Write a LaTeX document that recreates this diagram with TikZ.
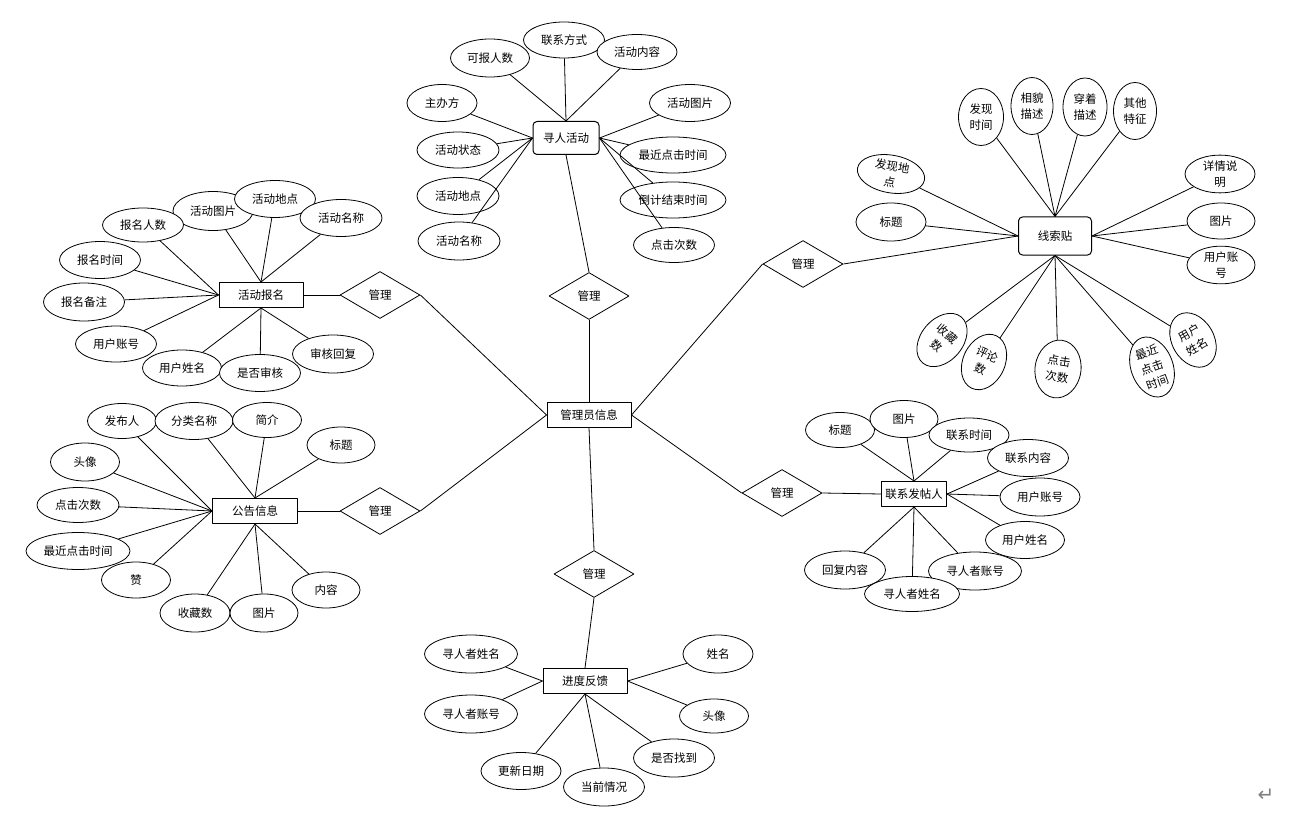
\documentclass[tikz,border=0pt]{standalone}
\usepackage{fontspec}
\setmainfont{Noto Sans CJK SC}
\newfontfamily\symfnt{DejaVu Sans}
\usepackage{tikz}
\usetikzlibrary{shapes.geometric, positioning}

\tikzset{
  ent/.style={draw, line width=1pt, fill=white, minimum width=84pt, minimum height=25pt, inner sep=1pt},
  entr/.style={ent, rounded corners=4pt},
  attr/.style={draw, ellipse, line width=0.8pt, fill=white, inner sep=0pt, align=center},
  rel/.style={draw, diamond, line width=0.8pt, fill=white, minimum width=80pt, minimum height=47pt, inner sep=0pt},
  conn/.style={line width=0.8pt}
}

\begin{document}
\begin{tikzpicture}[x=1pt, y=-1pt, font=\fontsize{11.5}{16}\selectfont, line join=round]
    \useasboundingbox (0,0) rectangle (1289,818);

    % centre entity
    \node[ent] (gly) at (589,415) {管理员信息};

    % 寻人活动
    \node[entr, minimum width=66pt, minimum height=33pt] (xr) at (566,138) {寻人活动};
    \node[rel] (xrR) at (589,296) {管理};
    \foreach \nm/\px/\py/\w/\h/\txt/\anc in {
        xr1/490/58/79/38/可报人数/north,
        xr2/564/40/81/36/联系方式/north,
        xr3/637/52/80/35/活动内容/north,
        xr4/442/103/70/37/主办方/west,
        xr5/458/150/82/36/活动状态/west,
        xr6/458/196/82/37/活动地点/west,
        xr7/459/241/82/38/活动名称/west,
        xr8/690/103/81/37/活动图片/east,
        xr9/673/155/106/36/最近点击时间/east,
        xr10/673/200/106/36/倒计结束时间/east,
        xr11/674/245/81/35/点击次数/east}{
      \node[attr, minimum width=\w pt, minimum height=\h pt] (\nm) at (\px,\py) {\txt};
      \draw[conn] (\nm) -- (xr.\anc);
    }

    % 线索贴
    \node[entr, minimum width=73pt, minimum height=38pt] (xs) at (1055,236) {线索贴};
    \node[rel] (xsR) at (803,264) {管理};
    \foreach \nm/\px/\py/\w/\h/\rot/\txt/\anc in {
        xs1/981/117/45/57/0/发现\\时间/north,
        xs2/1032/106/42/57/0/相貌\\描述/north,
        xs3/1085/107/44/58/0/穿着\\描述/north,
        xs4/1135/111/43/57/0/其他\\特征/north,
        xs5/891/174/68/37/-10/发现地\\点/west,
        xs6/891/222/70/38/0/标题/west,
        xs7/1220/174/70/37/0/详情说\\明/east,
        xs8/1221/221/68/36/0/图片/east,
        xs9/1221/265/68/36/0/用户账\\号/east,
        xs10/942/340/42/60/-40/收藏\\数/south,
        xs11/984/362/42/58/-25/评论\\数/south,
        xs12/1058/369/46/58/-8/点击\\次数/south,
        xs13/1152/367/42/62/20/最近\\点击\\时间/south,
        xs14/1193/340/42/58/30/用户\\姓名/south}{
      \node[attr, minimum width=\w pt, minimum height=\h pt, rotate=\rot] (\nm) at (\px,\py) {\txt};
      \draw[conn] (\nm) -- (xs.\anc);
    }

    % 活动报名
    \node[ent] (bm) at (261,295) {活动报名};
    \node[rel] (bmR) at (380,295) {管理};
    \foreach \nm/\px/\py/\w/\h/\txt/\anc in {
        bm2/213/211/80/39/活动图片/north,
        bm1/143/225/81/34/报名人数/west,
        bm3/275/199/81/37/活动地点/north,
        bm4/341/218/82/37/活动名称/north,
        bm5/100/260/81/37/报名时间/west,
        bm6/84/302/81/38/报名备注/west,
        bm7/116/344/81/36/用户账号/west,
        bm8/182/368/79/36/用户姓名/south,
        bm9/260/373/81/37/是否审核/south,
        bm10/333/354/81/38/审核回复/south}{
      \node[attr, minimum width=\w pt, minimum height=\h pt] (\nm) at (\px,\py) {\txt};
      \draw[conn] (\nm) -- (bm.\anc);
    }

    % 公告信息
    \node[ent, minimum width=85pt] (gg) at (255,511) {公告信息};
    \node[rel] (ggR) at (380,511) {管理};
    \foreach \nm/\px/\py/\w/\h/\txt/\anc in {
        gg1/122/421/69/35/发布人/west,
        gg2/194/421/78/37/分类名称/north,
        gg3/267/420/69/35/简介/north,
        gg4/341/445/68/36/标题/north,
        gg5/85/462/69/38/头像/west,
        gg6/78/505/82/35/点击次数/west,
        gg7/78/551/104/37/最近点击时间/west,
        gg8/136/580/69/36/赞/west,
        gg9/195/613/70/38/收藏数/south,
        gg10/264/613/68/38/图片/south,
        gg11/326/590/68/36/内容/south}{
      \node[attr, minimum width=\w pt, minimum height=\h pt] (\nm) at (\px,\py) {\txt};
      \draw[conn] (\nm) -- (gg.\anc);
    }

    % 联系发帖人
    \node[ent, minimum width=65pt] (lx) at (914,494) {联系发帖人};
    \node[rel] (lxR) at (782,493) {管理};
    \foreach \nm/\px/\py/\w/\h/\txt/\anc in {
        lx1/840/430/69/35/标题/north,
        lx2/904/419/68/37/图片/north,
        lx3/969/435/80/34/联系时间/north,
        lx4/1028/458/81/37/联系内容/east,
        lx5/1040/497/80/38/用户账号/east,
        lx6/1025/540/79/37/用户姓名/east,
        lx7/975/571/93/38/寻人者账号/south,
        lx8/845/570/81/38/回复内容/south,
        lx9/912/594/95/35/寻人者姓名/south}{
      \node[attr, minimum width=\w pt, minimum height=\h pt] (\nm) at (\px,\py) {\txt};
      \draw[conn] (\nm) -- (lx.\anc);
    }

    % 进度反馈
    \node[ent] (jd) at (585,681) {进度反馈};
    \node[rel] (jdR) at (594,574) {管理};
    \foreach \nm/\px/\py/\w/\h/\txt/\anc in {
        jd1/471/654/93/38/寻人者姓名/west,
        jd2/471/714/93/38/寻人者账号/west,
        jd3/718/654/70/38/姓名/east,
        jd4/714/716/69/34/头像/east,
        jd5/521/771/80/37/更新日期/south,
        jd6/604/787/81/38/当前情况/south,
        jd7/674/758/81/38/是否找到/south}{
      \node[attr, minimum width=\w pt, minimum height=\h pt] (\nm) at (\px,\py) {\txt};
      \draw[conn] (\nm) -- (jd.\anc);
    }

    % relationships
    \draw[conn] (xr.south) -- (xrR.north);
    \draw[conn] (xrR.south) -- (gly.north);
    \draw[conn] (bm.east) -- (bmR.west);
    \draw[conn] (bmR.east) -- (gly.west);
    \draw[conn] (gg.east) -- (ggR.west);
    \draw[conn] (ggR.east) -- (gly.west);
    \draw[conn] (gly.east) -- (xsR.west);
    \draw[conn] (xsR.east) -- (xs.west);
    \draw[conn] (gly.east) -- (lxR.west);
    \draw[conn] (lxR.east) -- (lx.west);
    \draw[conn] (gly.south) -- (jdR.north);
    \draw[conn] (jdR.south) -- (jd.north);

    \node[font=\symfnt\fontsize{20}{20}\selectfont, text=gray] (ret) at (1266,795) {↵};
\end{tikzpicture}
\end{document}
